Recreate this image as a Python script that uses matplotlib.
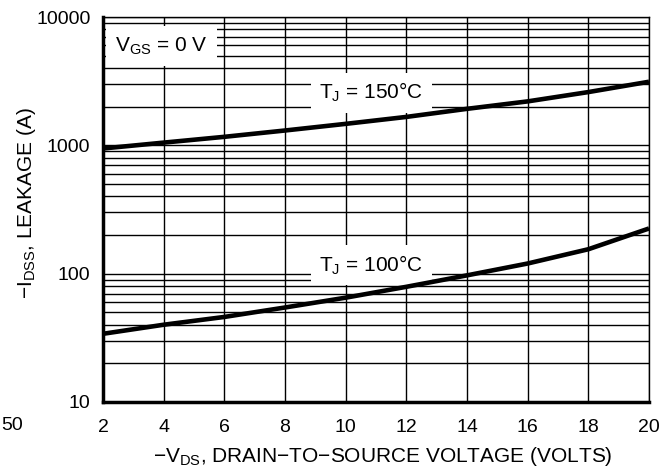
import numpy as np
import matplotlib
matplotlib.use("Agg")
import matplotlib.pyplot as plt
from matplotlib.ticker import FixedLocator, NullFormatter

plt.rcParams['font.family'] = ['Liberation Sans', 'DejaVu Sans']
plt.rcParams['mathtext.fontset'] = 'custom'
plt.rcParams['mathtext.rm'] = 'Liberation Sans'
plt.rcParams['mathtext.it'] = 'Liberation Sans'

# data
vds = [2, 4, 6, 8, 10, 12, 14, 16, 18, 20]
idss_150 = [945, 1050, 1165, 1305, 1470, 1665, 1925, 2200, 2600, 3130]
idss_100 = [34, 40, 46, 54.5, 65, 79, 97, 120, 155, 225]

x_ticks = [2, 4, 6, 8, 10, 12, 14, 16, 18, 20]
y_ticks = [10, 100, 1000, 10000]
y_labels = ["10", "100", "1000", "10000"]

W, H = 671, 474
fig = plt.figure(figsize=(W / 100, H / 100), dpi=100)
ax = fig.add_axes([103 / W, 1 - 402 / H, 546 / W, 385 / H])

ax.plot(vds, idss_150, color='black', lw=3.3, zorder=5, solid_capstyle='butt')
ax.plot(vds, idss_100, color='black', lw=3.3, zorder=5, solid_capstyle='butt')

ax.set_yscale('log')
ax.set_xlim(2, 20)
ax.set_ylim(10, 10000)
ax.set_xticks(x_ticks)
ax.set_yticks(y_ticks)
ax.set_yticklabels(y_labels)
minor = [m * 10**d for d in range(1, 4) for m in range(2, 10)]
ax.yaxis.set_minor_locator(FixedLocator(minor))
ax.yaxis.set_minor_formatter(NullFormatter())
ax.tick_params(which='both', length=0, labelsize=14)
ax.tick_params(axis='x', pad=12)
ax.tick_params(axis='y', pad=9)

ax.grid(True, which='both', axis='y', color='black', lw=1.0)
ax.grid(True, which='major', axis='x', color='black', lw=1.0)
ax.set_axisbelow(True)

for s in ['top', 'right']:
    ax.spines[s].set_linewidth(1.0)
for s in ['left', 'bottom']:
    ax.spines[s].set_linewidth(2.5)

box = dict(boxstyle='square,pad=0.4', facecolor='white', edgecolor='none')
ax.text(0.022, 0.925, r"V$_{\mathrm{GS}}$ = 0 V", transform=ax.transAxes,
        fontsize=15, ha='left', va='center', zorder=4,
        bbox=dict(boxstyle='square,pad=0.45', facecolor='white', edgecolor='none'))
ax.text(10.85, 2570, r"T$_{\mathrm{J}}$ = 150°C", fontsize=15,
        ha='center', va='center', zorder=4, bbox=box)
ax.text(10.85, 117, r"T$_{\mathrm{J}}$ = 100°C", fontsize=15,
        ha='center', va='center', zorder=4, bbox=box)

fig.text(27 / W, 1 - 203 / H, r"−I$_{\mathrm{DSS}}$, LEAKAGE (A)", fontsize=15,
         rotation=90, ha='center', va='center')
fig.text(383 / W, 1 - 456 / H, r"−V$_{\mathrm{DS}}$, DRAIN−TO−SOURCE VOLTAGE (VOLTS)",
         fontsize=15, ha='center', va='center')
# stray label at the left edge
fig.text(1 / W, 1 - 425 / H, "50", fontsize=14, ha='left', va='center')

fig.savefig("out.png", dpi=100)
